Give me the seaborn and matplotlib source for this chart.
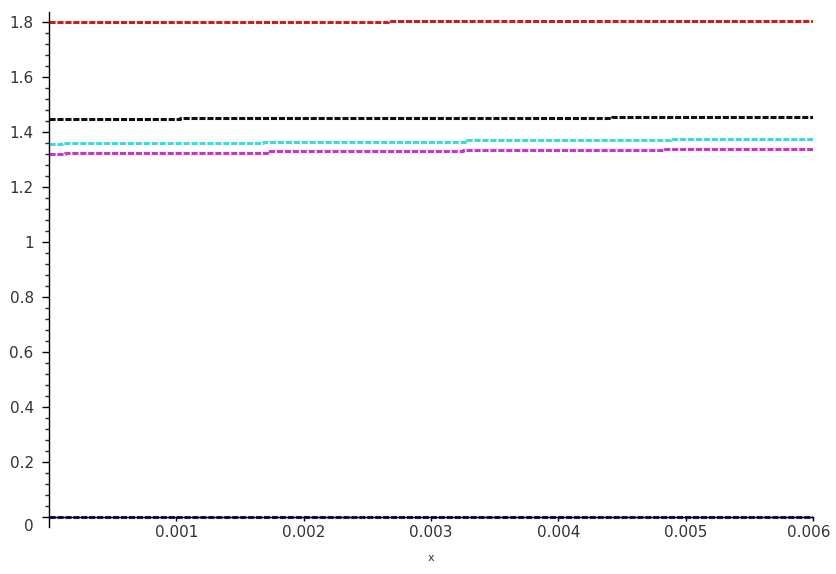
import matplotlib
matplotlib.use("Agg")
import matplotlib.pyplot as plt
import matplotlib.transforms as mtransforms
from matplotlib.ticker import MultipleLocator, FixedLocator, FuncFormatter
import seaborn as sns
import pandas as pd

# ---- data ----
red_x = [0.0, 0.00266, 0.00535, 0.006]
red_y = [1.799, 1.802, 1.805, 1.805]

black_x = [0.0, 0.00103, 0.00273, 0.00442, 0.006]
black_y = [1.446, 1.449, 1.452, 1.456, 1.456]

cyan_x = [0.0, 0.00010, 0.00168, 0.00328, 0.00488, 0.006]
cyan_y = [1.357, 1.361, 1.365, 1.369, 1.373, 1.373]

magenta_x = [0.0, 0.000125, 0.00171, 0.00325, 0.00482, 0.006]
magenta_y = [1.321, 1.325, 1.329, 1.333, 1.337, 1.337]

navy_x = [0.0, 0.006]
navy_y = [0.0, 0.0]

x_ticks = [0.001, 0.002, 0.003, 0.004, 0.005, 0.006]
y_ticks = [0, 0.2, 0.4, 0.6, 0.8, 1.0, 1.2, 1.4, 1.6, 1.8]

series = {
    "red": (red_x, red_y),
    "black": (black_x, black_y),
    "cyan": (cyan_x, cyan_y),
    "magenta": (magenta_x, magenta_y),
    "navy": (navy_x, navy_y),
}
colors = {
    "red": "#c81e1e",
    "black": "#101010",
    "cyan": "#3cdcdc",
    "magenta": "#d030d0",
    "navy": "#1c1c78",
}

rows = []
for name, (xs, ys) in series.items():
    for xv, yv in zip(xs, ys):
        rows.append({"series": name, "x": xv, "y": yv})
df = pd.DataFrame(rows)

sns.set_style("white")
plt.rcParams["font.family"] = ["DejaVu Sans"]

fig = plt.figure(figsize=(8.36, 5.74), dpi=100)
ax = fig.add_axes([49 / 836, 1 - 527 / 574, (813 - 49) / 836, (527 - 12) / 574])

sns.lineplot(data=df, x="x", y="y", hue="series", palette=colors,
             hue_order=list(series.keys()), estimator=None, sort=False,
             drawstyle="steps-post", linewidth=2.2, legend=False, ax=ax,
             dashes=False)
for line in ax.get_lines():
    line.set_dashes([2.0, 0.6])
    line.set_solid_capstyle("butt")

ax.set_xlim(0, 0.006)
ax.set_ylim(-0.036, 1.836)

for s in ["top", "right"]:
    ax.spines[s].set_visible(False)
ax.spines["bottom"].set_position(("data", 0))
ax.spines["left"].set_linewidth(1.0)
ax.spines["bottom"].set_linewidth(1.0)
ax.spines["left"].set_color("black")
ax.spines["bottom"].set_color("black")

ax.xaxis.set_major_locator(FixedLocator(x_ticks))
ax.xaxis.set_major_formatter(FuncFormatter(lambda v, p: f"{v:.3f}"))
ax.yaxis.set_major_locator(FixedLocator(y_ticks))
ax.yaxis.set_minor_locator(MultipleLocator(0.04))
ax.yaxis.set_major_formatter(FuncFormatter(lambda v, p: f"{v:g}"))

ax.tick_params(axis="x", which="major", direction="out", length=3, width=1,
               pad=3, labelsize=11, colors="black", bottom=True)
ax.tick_params(axis="y", which="major", direction="out", length=5, width=1,
               pad=6, labelsize=11, colors="black", left=True)
ax.tick_params(axis="y", which="minor", direction="out", length=3, width=1,
               left=True)
for lab in ax.get_xticklabels() + ax.get_yticklabels():
    lab.set_color("#333333")

# Maple places the "0" label slightly below the origin
fig.canvas.draw()
for lab in ax.get_yticklabels():
    if lab.get_text() == "0":
        lab.set_transform(lab.get_transform() +
                          mtransforms.ScaledTranslation(0, -6 / 72, fig.dpi_scale_trans))
for lab in ax.get_xticklabels():
    if lab.get_text() == "0.006":
        lab.set_transform(lab.get_transform() +
                          mtransforms.ScaledTranslation(-3 / 72, 0, fig.dpi_scale_trans))

ax.set_xlabel("")
ax.set_ylabel("")
fig.text(431 / 836, 1 - 558 / 574, "x", ha="center", va="center",
         fontsize=8, color="#333333")

fig.savefig("out.png", dpi=100)
